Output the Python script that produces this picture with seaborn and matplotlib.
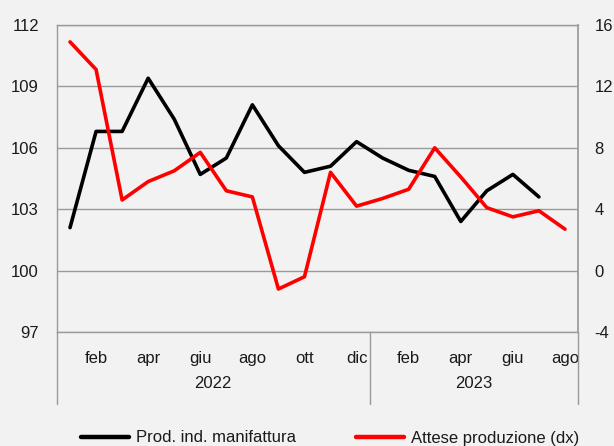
import matplotlib
matplotlib.use("Agg")
import matplotlib.pyplot as plt
import matplotlib.transforms as mtransforms
from matplotlib.lines import Line2D
import seaborn as sns
import pandas as pd

# Data
months = ["gen", "feb", "mar", "apr", "mag", "giu", "lug", "ago", "set", "ott", "nov", "dic",
          "gen", "feb", "mar", "apr", "mag", "giu", "lug", "ago"]
years = ["2022"] * 12 + ["2023"] * 8
prod_ind = [102.1, 106.8, 106.8, 109.4, 107.4, 104.7, 105.5, 108.1, 106.1, 104.8, 105.1, 106.3,
            105.5, 104.9, 104.6, 102.4, 103.9, 104.7, 103.6]
attese = [14.9, 13.1, 4.6, 5.8, 6.5, 7.7, 5.2, 4.8, -1.2, -0.4, 6.4, 4.2,
          4.7, 5.3, 8.0, 6.1, 4.1, 3.5, 3.9, 2.7]

left_ticks = [97, 100, 103, 106, 109, 112]
right_ticks = [-4, 0, 4, 8, 12, 16]

sns.set_theme(style="whitegrid")
bg = "#f2f2f2"
grid_col = "#9a9a9a"
txt_col = "#1a1a1a"
fs = 12
plt.rcParams["font.family"] = ["Liberation Sans", "DejaVu Sans"]
plt.rcParams["axes.unicode_minus"] = False

df_prod = pd.DataFrame({"x": range(len(prod_ind)), "y": prod_ind})
df_att = pd.DataFrame({"x": range(len(attese)), "y": attese})

W, H = 614, 446
fig = plt.figure(figsize=(W / 100, H / 100), dpi=100, facecolor=bg)
ax = fig.add_axes([57 / W, 1 - 332 / H, 521 / W, 307 / H])
ax.set_facecolor(bg)
ax2 = ax.twinx()

sns.lineplot(data=df_prod, x="x", y="y", ax=ax, color="black", linewidth=2.6, zorder=3)
sns.lineplot(data=df_att, x="x", y="y", ax=ax2, color="#ff0000", linewidth=2.6, zorder=3)

n = len(months)
ax.set_xlim(-0.5, n - 0.5)
ax.set_ylim(97, 112)
ax2.set_ylim(-4, 16)
ax.set_yticks(left_ticks)
ax2.set_yticks(right_ticks)
for a in (ax, ax2):
    a.set_xlabel("")
    a.set_ylabel("")

ax.grid(axis="y", color=grid_col, linewidth=1)
ax.grid(axis="x", visible=False)
ax2.grid(False)

for s in ax2.spines.values():
    s.set_visible(False)
ax2.spines["right"].set_visible(True)
ax2.spines["right"].set_color(grid_col)
for side in ["left", "top", "bottom"]:
    ax.spines[side].set_visible(True)
    ax.spines[side].set_color(grid_col)
    ax.spines[side].set_linewidth(1)
ax.spines["right"].set_visible(False)

ax.tick_params(axis="y", length=0, pad=13, labelsize=fs, labelcolor=txt_col)
ax2.tick_params(axis="y", length=0, pad=12, labelsize=fs, labelcolor=txt_col)

# month labels every second month
tick_pos = list(range(1, n, 2))
ax.set_xticks(tick_pos)
ax.set_xticklabels([months[i] for i in tick_pos])
ax.tick_params(axis="x", length=0, pad=14, labelsize=fs, labelcolor=txt_col)

# year labels and separators of the category axis
trans = mtransforms.blended_transform_factory(ax.transData, ax.transAxes)
depth = -(404 - 332) / 307
start = 0
for yr in ["2022", "2023"]:
    cnt = years.count(yr)
    mid = start + (cnt - 1) / 2
    ax.text(mid, -(384 - 332) / 307, yr, transform=trans, ha="center", va="center",
            fontsize=fs, color=txt_col)
    start += cnt
for xs in [-0.5, 11.5, n - 0.5]:
    ax.add_line(Line2D([xs, xs], [0, depth], transform=trans, color=grid_col,
                       linewidth=1, clip_on=False))

handles = [Line2D([], [], color="black", linewidth=3.2),
           Line2D([], [], color="#ff0000", linewidth=3.2)]
fig.legend(handles, ["Prod. ind. manifattura", "Attese produzione (dx)"],
           loc="center", bbox_to_anchor=(330 / W, 1 - 438 / H), ncol=2, frameon=False,
           fontsize=fs, handlelength=2.9, columnspacing=3.6, handletextpad=0.4,
           labelcolor=txt_col)

fig.savefig("out.png", dpi=100, facecolor=bg)
